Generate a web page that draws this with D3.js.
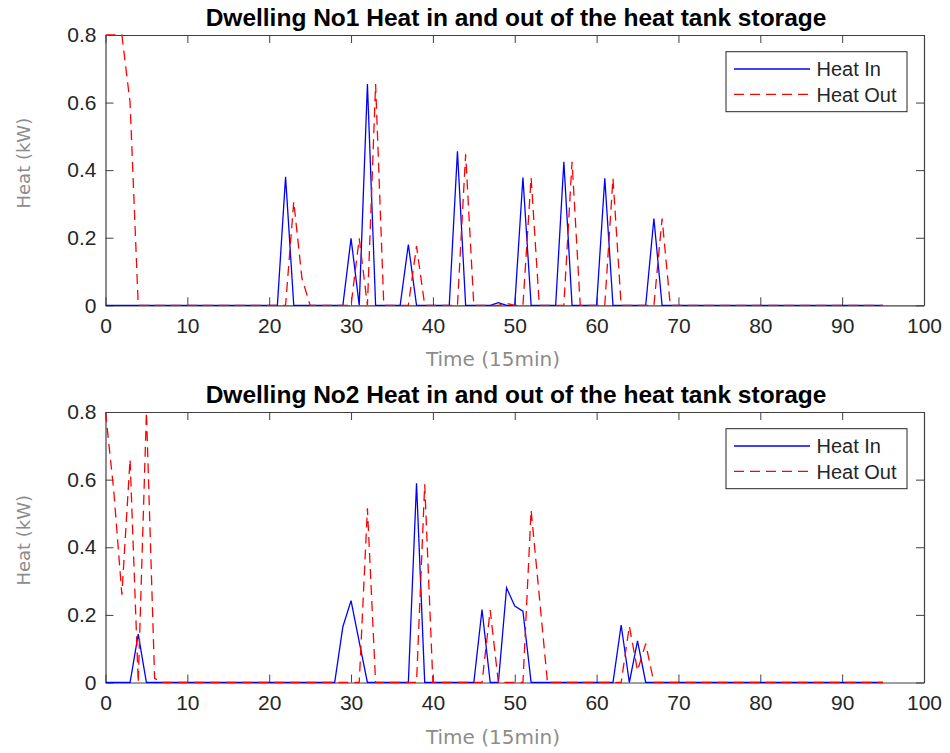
<!DOCTYPE html>
<html>
<head>
<meta charset="utf-8">
<script src="https://cdn.jsdelivr.net/npm/d3@7"></script>
<style>
  html, body { margin: 0; padding: 0; background: #fff; }
  svg { display: block; }
</style>
</head>
<body>
<svg id="chart" width="950" height="753"></svg>
<script>
// ---- data (time step index 0..95, 15-min intervals) ----
const timeSteps = d3.range(0, 96);
const xTicks = [0, 10, 20, 30, 40, 50, 60, 70, 80, 90, 100];
const yTicks = [0, 0.2, 0.4, 0.6, 0.8];
const seriesNames = ["Heat In", "Heat Out"];
const titles = [
  "Dwelling No1 Heat in and out of the heat tank storage",
  "Dwelling No2 Heat in and out of the heat tank storage"
];
const xLabel = "Time (15min)";
const yLabel = "Heat (kW)";

function series(n, pairs) { const a = new Array(n).fill(0); pairs.forEach(([i, v]) => a[i] = v); return a; }

// Dwelling 1
const d1HeatIn = series(96, [
  [22, 0.38], [30, 0.198], [32, 0.655], [37, 0.18], [43, 0.456], [48, 0.008],
  [51, 0.378], [56, 0.425], [61, 0.376], [67, 0.257]
]);
const d1HeatOut = series(96, [
  [0, 0.8], [1, 0.8], [2, 0.8], [3, 0.6],
  [23, 0.307], [24, 0.08], [31, 0.198], [33, 0.655], [38, 0.175], [44, 0.447],
  [49, 0.006], [52, 0.378], [57, 0.425], [62, 0.376], [68, 0.257]
]);
// Dwelling 2
const d2HeatIn = series(96, [
  [4, 0.143], [29, 0.165], [30, 0.242], [31, 0.12], [38, 0.589],
  [46, 0.216], [49, 0.28], [50, 0.226], [51, 0.211], [63, 0.17], [65, 0.123]
]);
const d2HeatOut = series(96, [
  [0, 0.8], [1, 0.57], [2, 0.26], [3, 0.66], [4, 0], [5, 0.8], [6, 0.012],
  [32, 0.515], [39, 0.586], [47, 0.214], [52, 0.51], [53, 0.255],
  [64, 0.167], [65, 0.035], [66, 0.115]
]);

const panels = [
  { title: titles[0], heatIn: d1HeatIn, heatOut: d1HeatOut, top: 35, bottom: 305.3 },
  { title: titles[1], heatIn: d2HeatIn, heatOut: d2HeatOut, top: 412, bottom: 682.5 }
];

// ---- drawing ----
const svg = d3.select("#chart");
const left = 105.5, right = 924;
const axisColor = "#404040";
const x = d3.scaleLinear().domain([0, 100]).range([left, right]);

panels.forEach((p, pi) => {
  const y = d3.scaleLinear().domain([0, 0.8]).range([p.bottom, p.top]);
  const g = svg.append("g");

  const clipId = "clip" + pi;
  svg.append("clipPath").attr("id", clipId)
    .append("rect").attr("x", left).attr("y", p.top - 1)
    .attr("width", right - left).attr("height", p.bottom - p.top + 2);

  // axes
  const fmtY = d => d === 0 ? "0" : d3.format(".1f")(d);
  const bottomAxis = d3.axisBottom(x).tickValues(xTicks).tickFormat(d3.format("d"))
    .tickSizeInner(-8).tickSizeOuter(0).tickPadding(13);
  const topAxis = d3.axisTop(x).tickValues(xTicks).tickFormat("")
    .tickSizeInner(-8).tickSizeOuter(0);
  const leftAxis = d3.axisLeft(y).tickValues(yTicks).tickFormat(fmtY)
    .tickSizeInner(-8).tickSizeOuter(0).tickPadding(9);
  const rightAxis = d3.axisRight(y).tickValues(yTicks).tickFormat("")
    .tickSizeInner(-8).tickSizeOuter(0);

  const axes = [
    g.append("g").attr("transform", `translate(0,${p.bottom})`).call(bottomAxis),
    g.append("g").attr("transform", `translate(0,${p.top})`).call(topAxis),
    g.append("g").attr("transform", `translate(${left},0)`).call(leftAxis),
    g.append("g").attr("transform", `translate(${right},0)`).call(rightAxis)
  ];
  axes.forEach(a => {
    a.selectAll(".domain").attr("stroke", axisColor).attr("stroke-width", 1.2);
    a.selectAll(".tick line").attr("stroke", axisColor).attr("stroke-width", 1);
    a.selectAll(".tick text").attr("fill", "#262626")
      .style("font-family", "'Liberation Sans', Arial, sans-serif").style("font-size", "21px");
  });

  // lines
  const line = d3.line().x((d, i) => x(timeSteps[i])).y(d => y(d));
  const lg = g.append("g").attr("clip-path", `url(#${clipId})`);
  lg.append("path").datum(p.heatIn).attr("d", line)
    .attr("fill", "none").attr("stroke", "#0000ff").attr("stroke-width", 1.3);
  lg.append("path").datum(p.heatOut).attr("d", line)
    .attr("fill", "none").attr("stroke", "#ff0000").attr("stroke-width", 1.3)
    .attr("stroke-dasharray", "10,6");

  // title
  g.append("text").attr("x", 516).attr("y", p.top - 9)
    .attr("text-anchor", "middle")
    .style("font-family", "'Liberation Sans', Arial, sans-serif")
    .style("font-weight", "bold").style("font-size", "24.5px").attr("fill", "#000")
    .text(p.title);

  // x label
  g.append("text").attr("x", 493).attr("y", p.bottom + 61)
    .attr("text-anchor", "middle")
    .style("font-family", "'DejaVu Sans', sans-serif").style("font-size", "20px")
    .attr("fill", "#8c8c8c").text(xLabel);

  // y label
  const yc = (p.top + p.bottom) / 2 - 7;
  g.append("text").attr("transform", `translate(30,${yc}) rotate(-90)`)
    .attr("text-anchor", "middle")
    .style("font-family", "'DejaVu Sans', sans-serif").style("font-size", "18px")
    .attr("fill", "#8c8c8c").text(yLabel);

  // legend
  const lx = 726, ly = p.top + 16.7;
  const leg = g.append("g");
  leg.append("rect").attr("x", lx).attr("y", ly).attr("width", 181).attr("height", 60)
    .attr("fill", "#fff").attr("stroke", "#262626").attr("stroke-width", 1);
  const legItems = [
    { name: seriesNames[0], color: "#0000ff", dash: null, dy: 17.3 },
    { name: seriesNames[1], color: "#ff0000", dash: "10,6", dy: 42.6 }
  ];
  legItems.forEach(it => {
    leg.append("line").attr("x1", lx + 8).attr("x2", lx + 84)
      .attr("y1", ly + it.dy).attr("y2", ly + it.dy)
      .attr("stroke", it.color).attr("stroke-width", 1.3)
      .attr("stroke-dasharray", it.dash);
    leg.append("text").attr("x", lx + 90.5).attr("y", ly + it.dy + 7.3)
      .style("font-family", "'Liberation Sans', Arial, sans-serif").style("font-size", "20px")
      .attr("fill", "#262626").text(it.name);
  });
});
</script>
</body>
</html>
